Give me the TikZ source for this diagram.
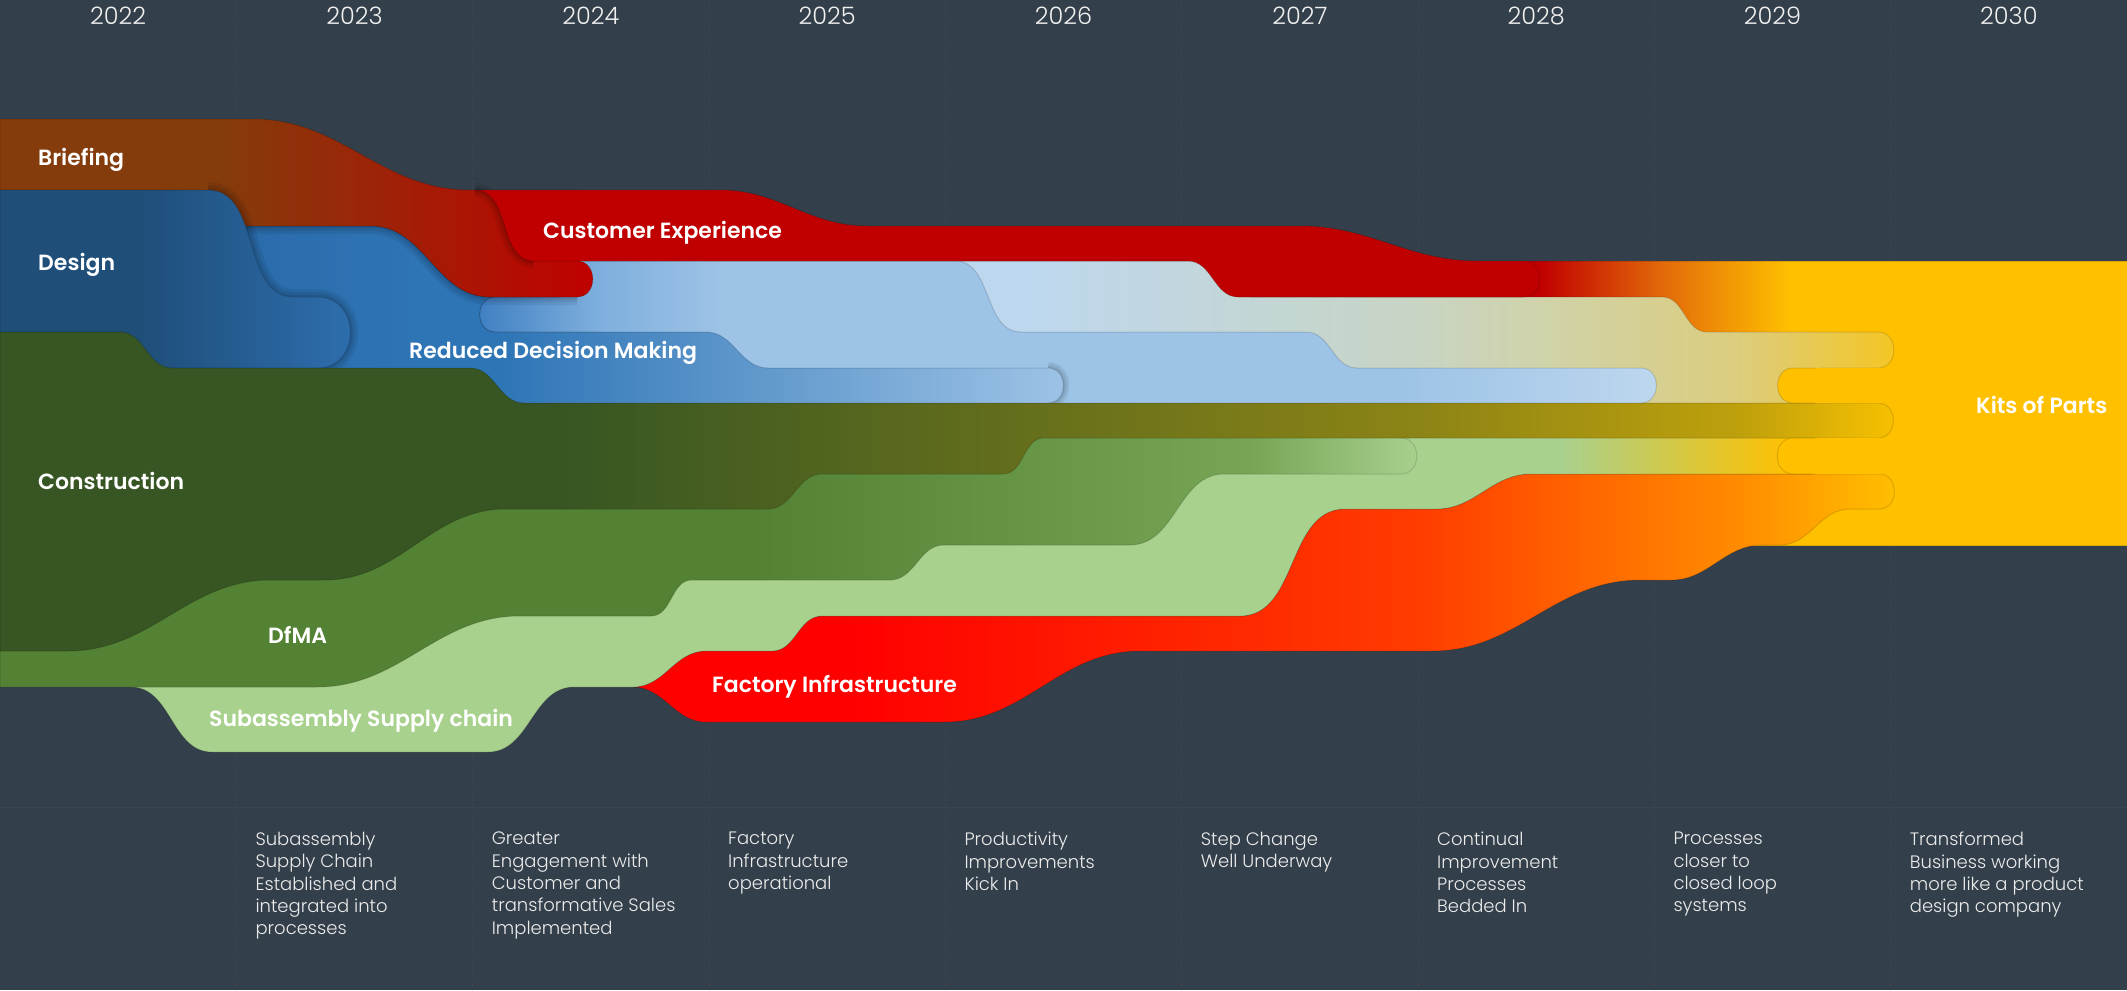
\documentclass[tikz,border=0pt]{standalone}
\usepackage{fontspec}
\setmainfont{Poppins}[BoldFont={Poppins SemiBold}]
\newfontfamily\lightfont{Poppins Light}
\usepackage{tikz}

\definecolor{bg}{HTML}{333F4A}
\definecolor{gridline}{HTML}{3A4550}
\definecolor{brief}{HTML}{843C0C}
\definecolor{custred}{HTML}{C00000}
\definecolor{dsgnblue}{HTML}{1F4E79}
\definecolor{dsgnend}{HTML}{2E6EAE}
\definecolor{midblue}{HTML}{2E75B6}
\definecolor{midstart}{HTML}{2A69A8}
\definecolor{paleblue}{HTML}{9DC3E6}
\definecolor{paleleft}{HTML}{3B7CC0}
\definecolor{palemid}{HTML}{7DAEDD}
\definecolor{iceblue}{HTML}{BDD7EE}
\definecolor{icetwo}{HTML}{C8D5C4}
\definecolor{icethree}{HTML}{DCCD7E}
\definecolor{icefour}{HTML}{F5C520}
\definecolor{constgreen}{HTML}{375623}
\definecolor{consttwo}{HTML}{8C8416}
\definecolor{constthree}{HTML}{BEA00C}
\definecolor{constfour}{HTML}{F7C000}
\definecolor{dfmagreen}{HTML}{548235}
\definecolor{dfmatwo}{HTML}{76A556}
\definecolor{subgreen}{HTML}{A9D18E}
\definecolor{factred}{HTML}{FF0000}
\definecolor{facttwo}{HTML}{FF3C00}
\definecolor{factthree}{HTML}{FF8C00}
\definecolor{kitorange}{HTML}{E36C0A}
\definecolor{kitgold}{HTML}{FFC000}

\tikzset{
  ease/.style={out=0,in=180},
  easeback/.style={out=180,in=0},
  capr/.style={out=0,in=0,looseness=1.5},
  capl/.style={out=180,in=180,looseness=1.5},
  rim/.style={draw=black,draw opacity=0.13,line width=1pt},
  softshadow/.style={draw=black,draw opacity=0.07,line width=#1},
  bandlabel/.style={anchor=base west,inner sep=0pt,text=white,font=\bfseries\fontsize{22}{22}\selectfont},
  yearlabel/.style={inner sep=0pt,text=white!88!gray,font=\lightfont\fontsize{24}{24}\selectfont},
  milestone/.style={anchor=north west,inner sep=0pt,align=left,text=white!85!gray,font=\lightfont\fontsize{18}{22.3}\selectfont}
}

\def\kitpath{(1500,261) rectangle (2127,545)}
\def\factpath{(633,687) to[ease] (706,651) -- (772,651) to[ease] (822,616) -- (1240,616) to[ease] (1345,509) -- (1436,509) to[ease] (1531,474) -- (1879,474) to[capr] (1879,509) -- (1850,509) to[easeback] (1780,545) -- (1762,545) to[easeback] (1671,580) -- (1640,580) to[easeback] (1432,651) -- (1140,651) to[easeback] (944,722) -- (706,722) to[easeback] (633,687) -- cycle}
\def\subpath{(131,420) -- (131,687) to[ease] (212,752) -- (488,752) to[ease] (574,687) -- (633,687) to[ease] (706,651) -- (772,651) to[ease] (822,616) -- (1240,616) to[ease] (1345,509) -- (1436,509) to[ease] (1531,474) -- (1810,474) -- (1810,420) -- cycle}
\def\dfmapath{(0,420) -- (1401,420) -- (1401,438) to[capr] (1401,474) -- (1224,474) to[easeback] (1130,545) -- (944,545) to[easeback] (890,580) -- (692,580) to[easeback] (651,616) -- (520,616) to[easeback] (317,687) -- (0,687) -- cycle}
\def\icepath{(950,261) -- (1250,261) -- (1250,297) -- (1662,297) to[ease] (1707,332) -- (1878,332) to[capr] (1878,368) -- (1820,368) -- (1820,418) -- (950,418) -- cycle}
\def\palepath{(495,297) -- (560,297) -- (560,261) -- (955,261) to[ease] (1021,332) -- (1306,332) to[ease] (1357,368) -- (1641,368) to[capr] (1641,403) -- (1641,418) -- (600,418) -- (600,332) -- (495,332) to[capl] (495,297) -- cycle}
\def\midpath{(200,226) -- (371,226) to[ease] (490,297) -- (495,297) to[capl] (495,332) -- (706,332) to[ease] (768,368) -- (1048,368) to[capr] (1048,403) -- (1048,418) -- (200,418) -- cycle}
\def\briefpath{(0,119) -- (253,119) to[ease] (470,190) -- (577,190) -- (577,261) to[capr] (577,297) -- (490,297) to[easeback] (371,226) -- (200,226) -- (200,190) -- (0,190) -- cycle}
\def\custpath{(475,190) -- (720,190) to[ease] (867,226) -- (1300,226) to[ease] (1478,261) -- (1524,261) to[capr] (1524,297) -- (1238,297) to[easeback] (1188,261) -- (534,261) to[easeback] (475,190) -- cycle}
\def\dsgnpath{(0,190) -- (208,190) to[ease] (294,297) -- (317,297) to[capr,looseness=1.6] (317,368) -- (0,368) -- cycle}
\def\cnpath{(0,332) -- (120,332) to[ease] (172,368) -- (470,368) to[ease] (524,403) -- (1878,403) to[capr] (1878,438) -- (1044,438) to[easeback] (1003,474) -- (822,474) to[easeback] (768,509) -- (506,509) to[easeback] (325,580) -- (271,580) to[easeback] (68,651) -- (0,651) -- cycle}

\begin{document}
\begin{tikzpicture}[x=1pt,y=-1pt]
  \useasboundingbox (0,0) rectangle (2127,990);
  \fill[bg] (0,0) rectangle (2127,990);
  \foreach \i in {1,...,8}
    \draw[gridline,dashed,line width=0.8pt] (236.33*\i,0) -- (236.33*\i,990);
  \draw[gridline,line width=0.8pt] (0,807) -- (2127,807);

  \begin{scope}
    \clip \kitpath;
    \fill[custred] (1490,250) rectangle (1541,560);
    \shade[left color=custred,right color=kitgold,middle color=kitorange] (1540,250) rectangle (1790,560);
    \fill[kitgold] (1789,250) rectangle (2127,560);
  \end{scope}
  \path[rim] \kitpath;

  \begin{scope}
    \clip \factpath;
    \fill[factred] (620,400) rectangle (851,760);
    \shade[left color=factred,right color=facttwo] (850,400) rectangle (1420,760);
    \shade[left color=facttwo,right color=factthree] (1419,400) rectangle (1740,760);
    \shade[left color=factthree,right color=kitgold] (1739,400) rectangle (1900,760);
  \end{scope}
  \path[rim] \factpath;

  \begin{scope}
    \clip \subpath;
    \fill[subgreen] (120,400) rectangle (1561,760);
    \shade[left color=subgreen,right color=kitgold] (1560,400) rectangle (1790,760);
    \fill[kitgold] (1789,400) rectangle (1820,760);
  \end{scope}
  \path[rim] \subpath;

  \begin{scope}
    \clip \dfmapath;
    \fill[dfmagreen] (0,400) rectangle (751,700);
    \shade[left color=dfmagreen,right color=dfmatwo] (750,400) rectangle (1250,700);
    \shade[left color=dfmatwo,right color=subgreen] (1249,400) rectangle (1420,700);
  \end{scope}
  \path[rim] \dfmapath;

  \begin{scope}
    \clip \icepath;
    \fill[iceblue] (940,250) rectangle (1031,430);
    \shade[left color=iceblue,right color=icetwo] (1030,250) rectangle (1420,430);
    \shade[left color=icetwo,right color=icethree] (1419,250) rectangle (1740,430);
    \shade[left color=icethree,right color=icefour] (1739,250) rectangle (1900,430);
  \end{scope}
  \path[rim] \icepath;

  \begin{scope}
    \clip \palepath;
    \shade[left color=paleleft,right color=paleblue,middle color=palemid] (470,250) rectangle (720,430);
    \fill[paleblue] (719,250) rectangle (1401,430);
    \shade[left color=paleblue,right color=iceblue] (1400,250) rectangle (1660,430);
  \end{scope}
  \path[rim] \palepath;

  \foreach \w in {12,7,3}
    \path[softshadow=\w pt] (1048,368) to[capr] (1048,403);
  \begin{scope}
    \clip \midpath;
    \shade[left color=midstart,right color=midblue] (190,220) rectangle (420,430);
    \fill[midblue] (419,220) rectangle (501,430);
    \shade[left color=midblue,right color=paleblue] (500,220) rectangle (1066,430);
  \end{scope}
  \path[rim] \midpath;

  \foreach \w in {16,10,5}
    \path[softshadow=\w pt] (577,297) -- (490,297) to[easeback] (371,226) -- (246,226);
  \begin{scope}
    \clip \briefpath;
    \fill[brief] (0,110) rectangle (221,310);
    \shade[left color=brief,right color=custred] (220,110) rectangle (597,310);
  \end{scope}
  \path[rim] \briefpath;

  \foreach \w in {14,8,4}
    \path[softshadow=\w pt] (534,261) to[easeback] (475,190);
  \fill[custred] \custpath;
  \path[rim] \custpath;

  \foreach \w in {16,10,5}
    \path[softshadow=\w pt] (208,190) to[ease] (294,297) -- (317,297) to[capr,looseness=1.6] (317,368);
  \begin{scope}
    \clip \dsgnpath;
    \fill[dsgnblue] (0,180) rectangle (141,380);
    \shade[left color=dsgnblue,right color=dsgnend] (140,180) rectangle (355,380);
  \end{scope}
  \path[rim] \dsgnpath;

  \begin{scope}
    \clip \cnpath;
    \fill[constgreen] (0,320) rectangle (561,660);
    \shade[left color=constgreen,right color=consttwo] (560,320) rectangle (1420,660);
    \shade[left color=consttwo,right color=constthree] (1419,320) rectangle (1740,660);
    \shade[left color=constthree,right color=constfour] (1739,320) rectangle (1895,660);
  \end{scope}
  \path[rim] \cnpath;

  \fill[kitgold] (1793,368) -- (2127,368) -- (2127,403) -- (1793,403) to[capl] (1793,368) -- cycle;
  \fill[kitgold] (1793,438) -- (2127,438) -- (2127,474) -- (1793,474) to[capl] (1793,438) -- cycle;
  \path[rim] (1815,368) -- (1793,368) to[capl] (1793,403) -- (1815,403);
  \path[rim] (1815,438) -- (1793,438) to[capl] (1793,474) -- (1815,474);

  \node[bandlabel] (briefing) at (38,165) {Briefing};
  \node[bandlabel] (design) at (38,270) {Design};
  \node[bandlabel] (custexp) at (543,238) {Customer Experience};
  \node[bandlabel] (reduced) at (409,358) {Reduced Decision Making};
  \node[bandlabel] (construction) at (38,489) {Construction};
  \node[bandlabel] (dfma) at (268,643) {DfMA};
  \node[bandlabel] (subsupply) at (209,726) {Subassembly Supply chain};
  \node[bandlabel] (factory) at (712,692) {Factory Infrastructure};
  \node[bandlabel] (kits) at (1976,413) {Kits of Parts};

  \foreach \k in {0,...,8}
    \node[yearlabel] (yr\k) at (236.33*\k+118.2,16) {\the\numexpr2022+\k\relax};

  \foreach \k/\txt in {1/{Subassembly\\Supply Chain\\Established and\\integrated into\\processes},
                       2/{Greater\\Engagement with\\Customer and\\transformative Sales\\Implemented},
                       3/{Factory\\Infrastructure\\operational},
                       4/{Productivity\\Improvements\\Kick In},
                       5/{Step Change\\Well Underway},
                       6/{Continual\\Improvement\\Processes\\Bedded In},
                       7/{Processes\\closer to\\closed loop\\systems},
                       8/{Transformed\\Business working\\more like a product\\design company}}
    \node[milestone] (ms\k) at (236.33*\k+19,832) {\txt};
\end{tikzpicture}
\end{document}
